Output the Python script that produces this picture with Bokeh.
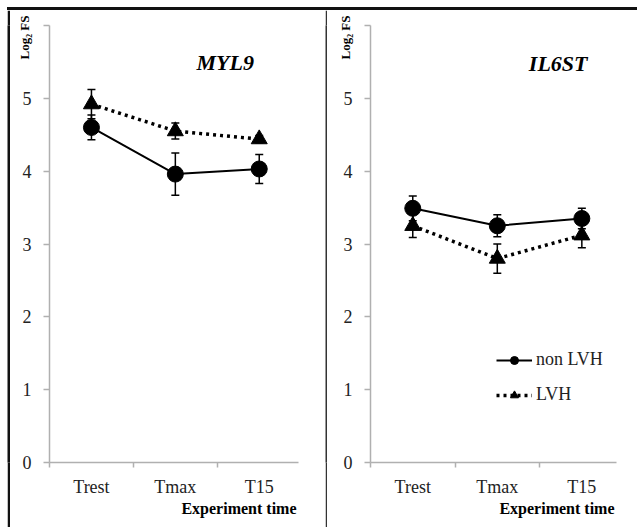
from bokeh.plotting import figure
from bokeh.models import (ColumnDataSource, Whisker, Range1d, FixedTicker, Title,
                          Legend, LegendItem, TeeHead, Spacer)
from bokeh.layouts import row, column
from bokeh.embed import file_html
from bokeh.resources import INLINE

categories = ["Trest", "Tmax", "T15"]

myl9_non = [4.60, 3.96, 4.03]
myl9_non_err = [0.17, 0.29, 0.20]
myl9_lvh = [4.92, 4.55, 4.44]
myl9_lvh_err = [0.20, 0.11, 0.05]

il6st_non = [3.49, 3.25, 3.35]
il6st_non_err = [0.17, 0.15, 0.14]
il6st_lvh = [3.25, 2.80, 3.12]
il6st_lvh_err = [0.16, 0.20, 0.17]

y_ticks = [0, 1, 2, 3, 4, 5, 6]
y_tick_labels = ["0", "1", "2", "3", "4", "5", ""]

SERIF = "Liberation Serif"
x_pos = [i + 0.5 for i in range(len(categories))]
PANEL_H = 517
LEFT_W = 315
RIGHT_W = 310


def bar(width, height, color):
    b = figure(width=width, height=height, toolbar_location=None, output_backend="svg",
               title_location=None, min_border=0, x_axis_location=None,
               y_axis_location=None, outline_line_color=None,
               border_fill_color=color, background_fill_color=color)
    b.grid.visible = False
    return b


def make_panel(title, non, non_err, lvh, lvh_err, width, x_end, mb_left, mb_right,
               mb_bottom, title_xy, legend=False):
    p = figure(width=width, height=PANEL_H, output_backend="svg", toolbar_location=None,
               x_range=Range1d(0, x_end), y_range=Range1d(0, 6),
               min_border_left=mb_left, min_border_right=mb_right,
               min_border_top=15, min_border_bottom=mb_bottom,
               outline_line_color=None)
    p.grid.visible = False
    p.background_fill_color = "white"
    p.border_fill_color = "white"

    xa = p.xaxis[0]
    xa.ticker = FixedTicker(ticks=x_pos, minor_ticks=list(range(len(categories) + 1)))
    xa.major_label_overrides = {x: c for x, c in zip(x_pos, categories)}
    xa.major_tick_out = 0
    xa.major_tick_in = 0
    xa.minor_tick_out = 5
    xa.minor_tick_in = 0
    xa.minor_tick_line_color = "#b0b0b0"
    xa.minor_tick_line_width = 1.5
    xa.axis_line_color = "#b0b0b0"
    xa.axis_line_width = 1.5
    xa.major_label_text_font = SERIF
    xa.major_label_text_font_size = "18px"
    xa.major_label_text_color = "#222222"
    xa.major_label_standoff = 9

    ya = p.yaxis[0]
    ya.ticker = FixedTicker(ticks=y_ticks)
    ya.major_label_overrides = {t: l for t, l in zip(y_ticks, y_tick_labels)}
    ya.major_tick_out = 6
    ya.major_tick_in = 0
    ya.minor_tick_out = 0
    ya.minor_tick_in = 0
    ya.major_tick_line_color = "#b0b0b0"
    ya.major_tick_line_width = 1.5
    ya.axis_line_color = "#b0b0b0"
    ya.axis_line_width = 1.5
    ya.major_label_text_font = SERIF
    ya.major_label_text_font_size = "18px"
    ya.major_label_text_color = "#222222"
    ya.major_label_standoff = 12

    src_non = ColumnDataSource(dict(x=x_pos, y=non,
                                    lo=[v - e for v, e in zip(non, non_err)],
                                    hi=[v + e for v, e in zip(non, non_err)]))
    src_lvh = ColumnDataSource(dict(x=x_pos, y=lvh,
                                    lo=[v - e for v, e in zip(lvh, lvh_err)],
                                    hi=[v + e for v, e in zip(lvh, lvh_err)]))

    l_lvh = p.line("x", "y", source=src_lvh, line_color="black", line_width=3.5,
                   line_dash="3 4")
    l_non = p.line("x", "y", source=src_non, line_color="black", line_width=2)

    for src in (src_non, src_lvh):
        w = Whisker(source=src, base="x", lower="lo", upper="hi",
                    line_color="black", line_width=1.5,
                    upper_head=TeeHead(size=8, line_color="black", line_width=1.5),
                    lower_head=TeeHead(size=8, line_color="black", line_width=1.5))
        p.add_layout(w)

    m_lvh = p.scatter("x", "y", source=src_lvh, marker="triangle", size=16,
                      fill_color="black", line_color="black")
    m_non = p.scatter("x", "y", source=src_non, marker="circle", size=16,
                      fill_color="black", line_color="black")

    p.text(x=[title_xy[0]], y=[title_xy[1]], text=[title], text_font=SERIF,
           text_font_style="bold italic", text_font_size="22px",
           text_align="center", text_baseline="middle", text_color="black")

    p.add_layout(Title(text="Experiment time", align="right", offset=2, standoff=-3,
                       text_font=SERIF, text_font_style="bold",
                       text_font_size="16px", text_color="black"), "below")
    p.add_layout(Title(text="Log\u2082 FS", align="right", offset=-10, standoff=-25,
                       text_font=SERIF, text_font_style="bold",
                       text_font_size="13px", text_color="black"), "left")

    if legend:
        lg = Legend(items=[LegendItem(label="non LVH", renderers=[l_non, m_non]),
                           LegendItem(label="LVH", renderers=[l_lvh, m_lvh])],
                    location=(126, 57), glyph_width=36, glyph_height=20,
                    label_height=20, label_standoff=4, spacing=14, padding=0,
                    margin=0, border_line_color=None, background_fill_alpha=0,
                    label_text_font=SERIF, label_text_font_size="18px",
                    label_text_color="#222222")
        p.add_layout(lg, "center")
    return p


left = make_panel("MYL9", myl9_non, myl9_non_err, myl9_lvh, myl9_lvh_err,
                  width=LEFT_W, x_end=2.968, mb_left=39, mb_right=27, mb_bottom=65,
                  title_xy=(2.095, 5.49))
right = make_panel("IL6ST", il6st_non, il6st_non_err, il6st_lvh, il6st_lvh_err,
                   width=RIGHT_W, x_end=2.91, mb_left=43, mb_right=21, mb_bottom=63,
                   title_xy=(2.22, 5.48), legend=True)

inner_w = 3 + LEFT_W + 2 + RIGHT_W
top_bar = Spacer(width=inner_w, height=3, styles={"background-color": "#111111"})
framed = column(top_bar,
                row(bar(3, PANEL_H, "#111111"), left, bar(2, PANEL_H, "#333333"), right))
layout = column(Spacer(width=7 + inner_w, height=7),
                row(Spacer(width=7, height=3 + PANEL_H), framed))
open("out.html", "w").write(file_html(layout, INLINE))
